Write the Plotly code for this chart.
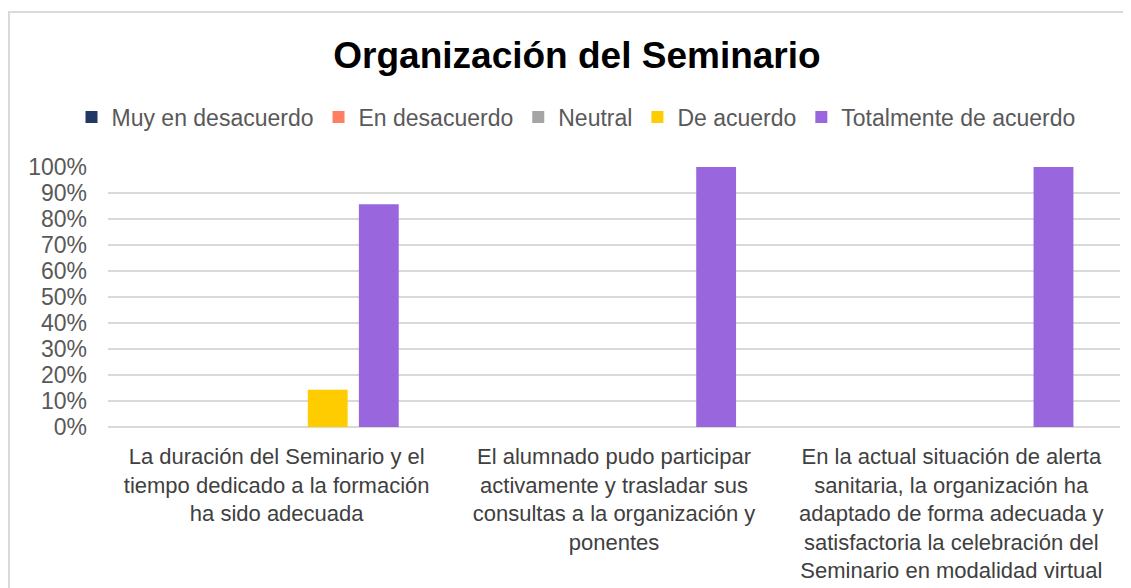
import plotly.graph_objects as go

categories = [
    "La duración del Seminario y el<br>tiempo dedicado a la formación<br>ha sido adecuada",
    "El alumnado pudo participar<br>activamente y trasladar sus<br>consultas a la organización y<br>ponentes",
    "En la actual situación de alerta<br>sanitaria, la organización ha<br>adaptado de forma adecuada y<br>satisfactoria la celebración del<br>Seminario en modalidad virtual",
]
series_names = ["Muy en desacuerdo", "En desacuerdo", "Neutral", "De acuerdo", "Totalmente de acuerdo"]
muy_en_desacuerdo = [0.0, 0.0, 0.0]
en_desacuerdo = [0.0, 0.0, 0.0]
neutral = [0.0, 0.0, 0.0]
de_acuerdo = [0.143, 0.0, 0.0]
totalmente_de_acuerdo = [0.857, 1.0, 1.0]
series_values = [muy_en_desacuerdo, en_desacuerdo, neutral, de_acuerdo, totalmente_de_acuerdo]
colors = ["#203864", "#FF7F62", "#A5A5A5", "#FFCC00", "#9966DD"]
tick_vals = [i / 10 for i in range(11)]
tick_text = [f"{i*10}%" for i in range(11)]

fig = go.Figure()
for name, vals, col in zip(series_names, series_values, colors):
    fig.add_trace(go.Bar(name=name, x=categories, y=vals, marker=dict(color=col, line=dict(width=0))))

# page body has an 8px margin; figure coordinates = screen - 8
OFF = 8
W, H = 1131 - OFF, 588 - OFF
L, T, PH = 108 - OFF, 167 - OFF, 260
R = W - (1120 - OFF)
B = H - T - PH
pw, ph = W - L - R, PH

def px_x(x):
    return (x - OFF - L) / pw

def px_y(y):
    return (H - B - (y - OFF)) / ph

fig.update_layout(
    width=W, height=H,
    margin=dict(l=L, r=R, t=T, b=B),
    paper_bgcolor="white", plot_bgcolor="white",
    barmode="group", bargap=0.243, bargroupgap=0.22,
    font=dict(family="Liberation Sans, Arial, sans-serif", color="#595959"),
    title=dict(text="<b>Organización del Seminario</b>", x=px_x(577), xanchor="center", xref="paper",
               y=1 - (55 - OFF) / H, yanchor="middle", font=dict(size=37, color="#000000")),
    legend=dict(orientation="h", x=px_x(576), xanchor="center", y=px_y(117), yanchor="middle",
                font=dict(size=23, color="#595959"), itemwidth=30, traceorder="normal"),
    showlegend=True,
    xaxis=dict(tickfont=dict(size=22, color="#404040"), showgrid=False, showline=False,
               ticks="", automargin=False, ticklabelstandoff=14),
    yaxis=dict(range=[0, 1], tickvals=tick_vals, ticktext=tick_text,
               tickfont=dict(size=23, color="#595959"), showgrid=True, gridcolor="#D9D9D9",
               gridwidth=1.5, zeroline=True, zerolinecolor="#D9D9D9", zerolinewidth=1.5,
               showline=False, ticks="", automargin=False, ticklabelstandoff=20),
    shapes=[dict(type="rect", xref="paper", yref="paper",
                 x0=px_x(9), x1=px_x(1300), y0=px_y(800), y1=px_y(12),
                 line=dict(color="#D9D9D9", width=2), fillcolor="rgba(0,0,0,0)", layer="below")],
)

fig.write_html("out.html")
